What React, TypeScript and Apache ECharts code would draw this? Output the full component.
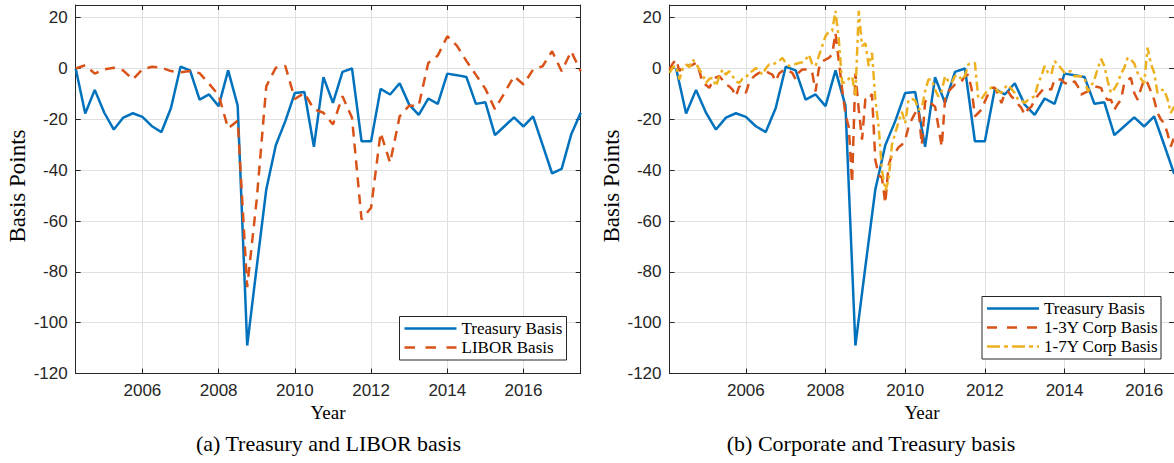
import React, { useEffect, useRef } from "react";
import * as echarts from "echarts";

// ---------------- data ----------------
// Quarterly series (panel a and Treasury in panel b), first point at 2004.25
const QUARTER_START = 2004.25;
const treasuryBasis = [
  0, -17.7, -8.4, -17.4, -24, -19.3, -17.6, -19, -22.7, -25,
  -15.5, 0.7, -0.7, -12.2, -10.2, -14.8, -0.7, -14.6, -109, -78,
  -47.6, -30.2, -20.7, -9.6, -9.2, -30.8, -3.4, -13.5, -1.3, 0,
  -28.6, -28.6, -8, -10.2, -5.8, -14.2, -18.2, -11.8, -13.9, -2,
  -2.6, -3.3, -13.9, -13.3, -26.2, -22.7, -19.2, -22.8, -18.8, -30,
  -41.3, -39.5, -26, -17.4,
];
const liborBasis = [
  0, 1.3, -2, -0.3, 0.3, -0.8, -4.3, -0.3, 0.7, 0.3,
  -1, -1.5, -1, -1.8, -6, -10.5, -23.5, -20.5, -86, -51.5,
  -7, 0.3, 1, -12, -9.6, -16, -17.4, -22, -10.9, -19.4,
  -59.4, -54.8, -25.3, -37.1, -18.8, -14.6, -14.6, 2.2, 5.1, 12.7,
  9, 3, -2.5, -8, -16, -9.6, -3, -6.3, -0.4, 0.9,
  6.8, -1.1, 6.8, -1.1,
];

// Monthly corporate series (panel b), first point at Feb 2004
const MONTH_START = 2004 + 1 / 12;
const corpBasis13 = [
  -0.4, 2, 3.5, -1, 1, 1.5, 1, 1.5, 2.2, -1,
  -5.7, -6.5, -7.6, -5, -3.5, -3, -4.5, -6.3, -7, -8.3,
  -11, -7, -8, -9.6, -5.5, -3.7, -2.5, -1.7, -1.3, -1,
  -1.8, -2.4, -5, -2, -1, -0.4, -1, -1.7, -4.3, -1.5,
  -0.4, -0.4, -0.4, -1.7, -9, 0, 2.9, 3.5, 4.2, 5.5,
  14, 3, -8, -18, -23, -45, -2, -16, -28, -12,
  -12.5, -10, -36, -42, -43, -53, -38, -34, -33, -31,
  -30, -28, -23, -20, -17.5, -16, -30, -13, -12, -14,
  -15, -22.8, -30.7, -12.3, -9, -7.6, -6.3, -6, -5, -3,
  -2.4, -8, -18.8, -17.5, -16.2, -13, -10, -7.6, -7.6, -10,
  -13.6, -9.6, -9, -11, -12.3, -14, -15.5, -18.2, -16, -15,
  -12.3, -10.5, -9, -7.6, -8, -8.3, -4.3, -4.3, -4.3, -5.7,
  -6, -6.3, -5, -7, -10.3, -9.6, -9, -8.3, -7, -7.3,
  -7.6, -11, -12.3, -12.3, -16.2, -14, -12.3, -5.7, -4.5, -3.7,
  -9.6, -12.3, -8, -4.3, -5.7, -9, -12.3, -17.5, -20, -21.5,
  -25.4, -30.7, -27,
];
const corpBasis17 = [
  -1.7, 0.5, 1, -4.3, 0, 1.6, 0.5, 3.5, 2, -0.4,
  -2.4, -5.7, -4, -3.7, -7, -3, -0.4, -2.4, -1, -3,
  -5, -5.7, -4, -3.7, -1.5, -1, 0.3, -1, -2.4, 0,
  1.6, 1.5, 2.2, 3, 4.2, 2.2, 1, 1.6, 1.8, 2.2,
  2.5, 3.5, 5.5, 1.6, 1, 5, 8.8, 12.8, 14.5, 14.8,
  22.7, 11.5, -5.7, -5.5, -4, -3, -11, 22.7, 8.8, 10,
  1, 6.2, -12, -23, -40, -48, -44, -30, -25.4, -21,
  -17, -21.5, -12.3, -12, -12.5, -16.2, -15.5, -9, -4.3, -4.3,
  -8.3, -11, -9, -3, -5, -5.7, -3, -2.5, -4.5, -3,
  1.6, 2.2, 2.2, -11.6, -12, -10, -8.3, -7.5, -7.6, -9,
  -9.6, -7.6, -6.3, -8, -9.6, -12.3, -12.5, -13.6, -12.3, -11.5,
  -11, -6, -3, 1, -1.5, -2.4, 2.9, 1.5, 0, -1.7,
  -1, -1.2, -3, -3, -3, -3.7, -9, -7, -4.3, 0,
  3.8, 1, -5, -9.6, -8, -5.7, -2, 0.3, 4.2, 3.5,
  2, -1.7, -4, -5.7, 8.2, 2, -1.7, -9.6, -8.5, -8.3,
  -12, -17.5, -15,
];

const yearTicks = [2006, 2008, 2010, 2012, 2014, 2016];
const panelNames = ["(a) Treasury and LIBOR basis", "(b) Corporate and Treasury basis"];
const legendA = ["Treasury Basis", "LIBOR Basis"];
const legendB = ["Treasury Basis", "1-3Y Corp Basis", "1-7Y Corp Basis"];

// ---------------- styles ----------------
const BLUE = "#0072BD";
const ORANGE = "#D95319";
const YELLOW = "#EDB120";
const AXIS = "#262626";
const GRIDC = "#e0e0e0";
const SANS = "'Liberation Sans', Arial, Helvetica, sans-serif";
const SERIF = "'Liberation Serif', 'Times New Roman', serif";
const DASH = [10, 7];
const DASHDOT = [9, 4, 3, 4];

const toPairs = (start: number, step: number, vals: number[]) =>
  vals.map((v, i) => [start + i * step, v]);

function xAxesFor(gridIndex: number, min: number, max: number) {
  return [
    {
      type: "value", gridIndex, min, max, position: "bottom",
      axisLine: { show: true, onZero: false, lineStyle: { color: AXIS, width: 1 } },
      axisTick: { show: true, inside: true, length: 5, customValues: yearTicks, lineStyle: { color: AXIS } },
      axisLabel: {
        customValues: yearTicks, color: AXIS, fontFamily: SANS, fontSize: 17, margin: 8,
        formatter: (v: number) => String(v),
      },
      splitLine: { show: true, lineStyle: { color: GRIDC, width: 1 } },
    },
    {
      type: "value", gridIndex, min, max, position: "top",
      axisLine: { show: true, onZero: false, lineStyle: { color: AXIS, width: 1 } },
      axisTick: { show: true, inside: true, length: 5, customValues: yearTicks, lineStyle: { color: AXIS } },
      axisLabel: { show: false },
      splitLine: { show: false },
    },
  ];
}

function yAxesFor(gridIndex: number) {
  return [
    {
      type: "value", gridIndex, min: -120, max: 25, interval: 20, position: "left",
      axisLine: { show: true, onZero: false, lineStyle: { color: AXIS, width: 1 } },
      axisTick: { show: true, inside: true, length: 5, lineStyle: { color: AXIS } },
      axisLabel: {
        color: AXIS, fontFamily: SANS, fontSize: 17, margin: 8, showMaxLabel: false,
        formatter: (v: number) => String(v),
      },
      splitLine: { show: true, lineStyle: { color: GRIDC, width: 1 } },
    },
    {
      type: "value", gridIndex, min: -120, max: 25, interval: 20, position: "right",
      axisLine: { show: true, onZero: false, lineStyle: { color: AXIS, width: 1 } },
      axisTick: { show: true, inside: true, length: 5, lineStyle: { color: AXIS } },
      axisLabel: { show: false },
      splitLine: { show: false },
    },
  ];
}

function lineSeries(name: string, data: number[][], xi: number, yi: number, color: string, type: any) {
  return {
    type: "line", name, data, xAxisIndex: xi, yAxisIndex: yi,
    symbol: "none", showSymbol: false, clip: true, silent: true,
    lineStyle: { color, width: 2.5, type },
    itemStyle: { color },
  };
}

function legendBox(x: number, y: number, w: number, names: string[], colors: string[], dashes: any[]) {
  const els: any[] = [
    {
      type: "rect", shape: { x, y, width: w, height: 4 + names.length * 19 + 1.5 },
      style: { fill: "#fff", stroke: AXIS, lineWidth: 1 }, z: 100,
    },
  ];
  names.forEach((n, i) => {
    const cy = y + 2 + 9.5 + i * 19 + 0.5;
    els.push({
      type: "line", shape: { x1: x + 5, y1: cy, x2: x + 57, y2: cy },
      style: { stroke: colors[i], lineWidth: 2.5, lineDash: dashes[i] }, z: 101,
    });
    els.push({
      type: "text", x: x + 62, y: cy, z: 101,
      style: { text: n, fill: "#000", fontSize: 17, fontFamily: SERIF, verticalAlign: "middle", align: "left" },
    });
  });
  return els;
}

function textEl(text: string, x: number, y: number, size: number, rotation = 0) {
  return {
    type: "text", x, y, rotation,
    style: { text, fill: "#000", fontSize: size, fontFamily: SERIF, align: "center", verticalAlign: "middle" },
  };
}

export default function App() {
  const ref = useRef<HTMLDivElement>(null);
  useEffect(() => {
    if (!ref.current) return;
    const chart = echarts.init(ref.current, undefined, { renderer: "svg" });
    const xa = [...xAxesFor(0, 2004.25, 2017.5), ...xAxesFor(1, MONTH_START, 2016.75)];
    const ya = [...yAxesFor(0), ...yAxesFor(1)];
    const option: any = {
      animation: false,
      backgroundColor: "#fff",
      grid: [
        { left: 75.7, top: 5, width: 505, height: 368.5, outerBoundsMode: "none", containLabel: false },
        { left: 669.5, top: 5, width: 504.6, height: 368.5, outerBoundsMode: "none", containLabel: false },
      ],
      xAxis: xa,
      yAxis: ya,
      series: [
        lineSeries(legendA[0], toPairs(QUARTER_START, 0.25, treasuryBasis), 0, 0, BLUE, "solid"),
        lineSeries(legendA[1], toPairs(QUARTER_START, 0.25, liborBasis), 0, 0, ORANGE, DASH),
        lineSeries(legendB[0], toPairs(QUARTER_START, 0.25, treasuryBasis), 2, 2, BLUE, "solid"),
        lineSeries(legendB[1], toPairs(MONTH_START, 1 / 12, corpBasis13), 2, 2, ORANGE, DASH),
        lineSeries(legendB[2], toPairs(MONTH_START, 1 / 12, corpBasis17), 2, 2, YELLOW, DASHDOT),
      ],
      graphic: [
        textEl("Basis Points", 17, 186, 23, Math.PI / 2),
        textEl("Basis Points", 611, 186, 23, Math.PI / 2),
        textEl("Year", 328, 412, 19),
        textEl("Year", 922, 412, 19),
        textEl(panelNames[0], 328.5, 443, 22),
        textEl(panelNames[1], 871, 443, 22),
        ...legendBox(399.5, 316.5, 167, legendA, [BLUE, ORANGE], [null, [10.5, 10.5]]),
        ...legendBox(982, 296.5, 179, legendB, [BLUE, ORANGE, YELLOW], [null, [10, 10], [13, 4, 4, 4]]),
      ],
    };
    chart.setOption(option);
    return () => chart.dispose();
  }, []);
  return (
    <div
      ref={ref}
      style={{ position: "fixed", left: 0, top: 0, width: 1174, height: 463, background: "#fff" }}
    />
  );
}
